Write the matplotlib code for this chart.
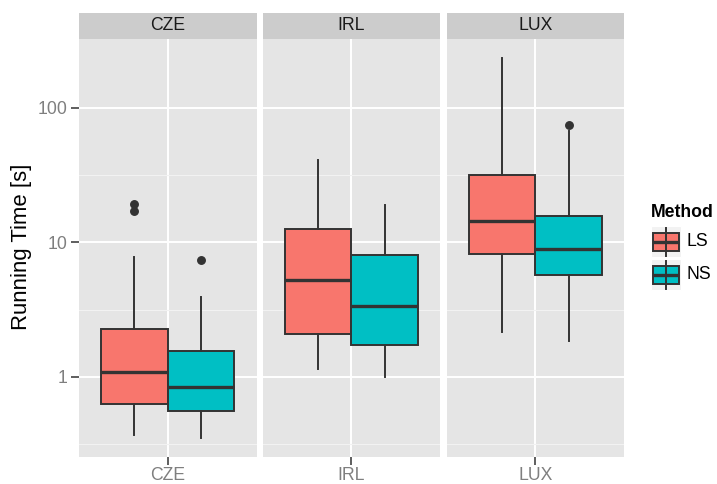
import numpy as np
import matplotlib
matplotlib.use('Agg')
import matplotlib.pyplot as plt
from matplotlib.patches import Rectangle
from matplotlib.ticker import NullFormatter

plt.rcParams['font.family'] = ['Liberation Sans', 'DejaVu Sans']

countries = ['CZE', 'IRL', 'LUX']
methods = ['LS', 'NS']
colors = ['#F8766D', '#00BFC4']

# five-number summaries: [whisker low, q1, median, q3, whisker high]
ls_stats = [[0.369, 0.632, 1.09, 2.27, 7.77],
            [1.14, 2.08, 5.27, 12.6, 40.9],
            [2.17, 8.23, 14.4, 31.8, 235.0]]
ns_stats = [[0.352, 0.557, 0.842, 1.55, 3.91],
            [1.0, 1.73, 3.35, 8.0, 19.1],
            [1.86, 5.77, 8.91, 15.7, 67.3]]
ls_outliers = [[17.1, 19.2], [], []]
ns_outliers = [[7.47], [], [74.3]]

y_major = [1, 10, 100]
y_major_labels = ['1', '10', '100']

W, H = 717, 484
fig = plt.figure(figsize=(W / 100, H / 100), dpi=100)


def px(x0, y0, x1, y1):
    # pixel box (top-left origin) -> figure fraction rect
    return [x0 / W, 1 - y1 / H, (x1 - x0) / W, (y1 - y0) / H]


# y range: data range in log space, expanded 5% like ggplot
all_vals = [v for s in ls_stats + ns_stats for v in s]
all_vals += [v for o in ls_outliers + ns_outliers for v in o]
lo, hi = np.log10(min(all_vals)), np.log10(max(all_vals))
pad = 0.05 * (hi - lo)
ylim = (10 ** (lo - pad), 10 ** (hi + pad))
minor = [10 ** e for e in (-0.5, 0.5, 1.5)]

panel_x = [(79, 256.5), (262.7, 440), (446.7, 624)]
top, strip_top, bottom = 39, 13, 457
tick_size = 12.7
edge = '#333333'
box_lw, med_lw = 1.4, 2.4

for i, c in enumerate(countries):
    x0, x1 = panel_x[i]
    ax = fig.add_axes(px(x0, top, x1, bottom))
    ax.set_facecolor('#E5E5E5')
    ax.set_yscale('log')
    ax.set_ylim(*ylim)
    ax.set_xlim(0.4, 1.6)
    for s in ax.spines.values():
        s.set_visible(False)

    ax.set_yticks(y_major)
    ax.set_yticks(minor, minor=True)
    ax.yaxis.set_minor_formatter(NullFormatter())
    ax.set_xticks([1])
    ax.set_xticklabels([c])
    ax.grid(which='major', color='white', lw=1.4)
    ax.grid(which='minor', axis='y', color='#F2F2F2', lw=0.8)
    ax.set_axisbelow(True)
    ax.tick_params(axis='y', which='minor', length=0)
    ax.tick_params(axis='x', length=5.5, width=1.1, color=edge,
                   labelsize=tick_size, labelcolor='#7F7F7F', pad=2)
    if i == 0:
        ax.set_yticklabels(y_major_labels)
        ax.tick_params(axis='y', which='major', length=5.5, width=1.1, color=edge,
                       labelsize=tick_size, labelcolor='#7F7F7F', pad=3)
    else:
        ax.tick_params(axis='y', which='major', length=0, labelleft=False)

    stats = []
    for s, o in ((ls_stats[i], ls_outliers[i]), (ns_stats[i], ns_outliers[i])):
        stats.append(dict(whislo=s[0], q1=s[1], med=s[2], q3=s[3], whishi=s[4], fliers=o))
    bp = ax.bxp(stats, positions=[0.775, 1.225], widths=0.45, patch_artist=True,
                showcaps=False, manage_ticks=False,
                boxprops=dict(edgecolor=edge, lw=box_lw),
                whiskerprops=dict(color=edge, lw=box_lw),
                medianprops=dict(color=edge, lw=med_lw, solid_capstyle='butt'),
                flierprops=dict(marker='o', markerfacecolor=edge, markeredgecolor=edge,
                                markersize=5.4, linestyle='none'))
    for patch, col in zip(bp['boxes'], colors):
        patch.set_facecolor(col)

    sax = fig.add_axes(px(x0, strip_top, x1, top))
    sax.set_facecolor('#CCCCCC')
    sax.set_xticks([])
    sax.set_yticks([])
    for s in sax.spines.values():
        s.set_visible(False)
    sax.text(0.5, 0.5, c, ha='center', va='center', fontsize=tick_size,
             color='#1A1A1A', transform=sax.transAxes)

fig.text(22 / W, 1 - 247 / H, 'Running Time [s]', rotation=90, ha='center',
         va='center', fontsize=15.9, color='black')

# legend, drawn in a pixel-coordinate axes
lax = fig.add_axes(px(640, 190, 717, 300))
lax.set_xlim(640, 717)
lax.set_ylim(300, 190)
lax.axis('off')
lax.text(651, 212, 'Method', fontsize=tick_size, fontweight='bold',
         ha='left', va='center')
for j, (m, col) in enumerate(zip(methods, colors)):
    ky = 225.5 + j * 33
    lax.add_patch(Rectangle((651, ky), 30.5, 31, facecolor='#F2F2F2', edgecolor='white', lw=0.8))
    cx = 651 + 15.25
    lax.plot([cx, cx], [ky + 2.5, ky + 30], color=edge, lw=box_lw)
    lax.add_patch(Rectangle((653.5, ky + 7), 26, 18, facecolor=col, edgecolor=edge, lw=box_lw))
    lax.plot([653.5, 679.5], [ky + 16, ky + 16], color=edge, lw=med_lw, solid_capstyle='butt')
    lax.text(687, ky + 16, m, fontsize=tick_size, ha='left', va='center')

fig.savefig('out.png', dpi=100)
